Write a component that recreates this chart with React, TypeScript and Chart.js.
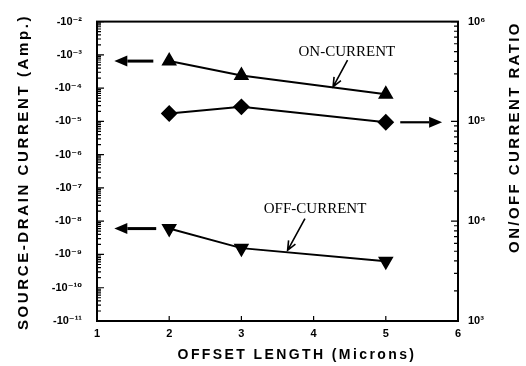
import React, { useEffect, useRef } from 'react';
import { Chart, registerables } from 'chart.js';
Chart.register(...registerables);

// ---- data ----
const offsetLength = [2, 3, 5];
const onCurrent = [6.5e-4, 2.4e-4, 6.5e-5];
const offCurrent = [6.0e-9, 1.55e-9, 6.3e-10];
const onOffRatio = [1.2e5, 1.4e5, 9.8e4];
const xTickValues = [1, 2, 3, 4, 5, 6];
const leftExps = [-11, -10, -9, -8, -7, -6, -5, -4, -3, -2];
const rightExps = [3, 4, 5, 6];

const SUP: Record<string, string> = {
  '-': '\u207B', '0': '\u2070', '1': '\u00B9', '2': '\u00B2', '3': '\u00B3',
  '4': '\u2074', '5': '\u2075', '6': '\u2076', '7': '\u2077', '8': '\u2078', '9': '\u2079',
};
const sup = (n: number) => String(n).split('').map((c) => SUP[c] || c).join('');

const SANS = '"Liberation Sans", Arial, "DejaVu Sans", sans-serif';
const SERIF = '"Liberation Serif", "Times New Roman", serif';

function filledArrow(ctx: CanvasRenderingContext2D, x1: number, y1: number, x2: number, y2: number, lw: number) {
  const ang = Math.atan2(y2 - y1, x2 - x1);
  const hl = 13, hw = 5.5;
  const bx = x2 - hl * Math.cos(ang), by = y2 - hl * Math.sin(ang);
  ctx.beginPath();
  ctx.lineWidth = lw;
  ctx.moveTo(x1, y1);
  ctx.lineTo(bx, by);
  ctx.stroke();
  ctx.beginPath();
  ctx.moveTo(x2, y2);
  ctx.lineTo(bx + hw * Math.sin(ang), by - hw * Math.cos(ang));
  ctx.lineTo(bx - hw * Math.sin(ang), by + hw * Math.cos(ang));
  ctx.closePath();
  ctx.fill();
}

function openArrow(ctx: CanvasRenderingContext2D, x1: number, y1: number, x2: number, y2: number) {
  const ang = Math.atan2(y2 - y1, x2 - x1);
  const hl = 10, spread = 0.4;
  ctx.beginPath();
  ctx.lineWidth = 1.6;
  ctx.moveTo(x1, y1);
  ctx.lineTo(x2, y2);
  ctx.moveTo(x2 - hl * Math.cos(ang - spread), y2 - hl * Math.sin(ang - spread));
  ctx.lineTo(x2, y2);
  ctx.lineTo(x2 - hl * Math.cos(ang + spread), y2 - hl * Math.sin(ang + spread));
  ctx.stroke();
}

const decorPlugin = {
  id: 'decor',
  afterDraw(chart: any) {
    const ctx: CanvasRenderingContext2D = chart.ctx;
    const { left, right, top, bottom } = chart.chartArea;
    const xs = chart.scales.x, ys = chart.scales.y, y2s = chart.scales.y2;
    ctx.save();
    ctx.strokeStyle = '#000';
    ctx.fillStyle = '#000';
    // frame
    ctx.lineWidth = 2;
    ctx.strokeRect(left, top, right - left, bottom - top);
    // left ticks
    ctx.lineWidth = 1.2;
    ctx.beginPath();
    for (let e = -11; e <= -2; e++) {
      for (let k = 1; k <= 9; k++) {
        if (e === -2 && k > 1) break;
        const py = ys.getPixelForValue(k * Math.pow(10, e));
        const len = k === 1 ? 7 : 4;
        ctx.moveTo(left, py);
        ctx.lineTo(left + len, py);
      }
    }
    // right ticks
    for (let e = 3; e <= 6; e++) {
      for (let k = 1; k <= 9; k++) {
        if (e === 6 && k > 1) break;
        const py = y2s.getPixelForValue(k * Math.pow(10, e));
        const len = k === 1 ? 7 : 4;
        ctx.moveTo(right, py);
        ctx.lineTo(right - len, py);
      }
    }
    // x ticks
    for (const v of xTickValues) {
      const px = xs.getPixelForValue(v);
      ctx.moveTo(px, bottom);
      ctx.lineTo(px, bottom - 5);
    }
    ctx.stroke();

    // big arrows
    const yOn = ys.getPixelForValue(onCurrent[0]);
    filledArrow(ctx, xs.getPixelForValue(1.78), yOn, xs.getPixelForValue(1.24), yOn, 3);
    const yOff = ys.getPixelForValue(offCurrent[0]);
    filledArrow(ctx, xs.getPixelForValue(1.82), yOff, xs.getPixelForValue(1.24), yOff, 3);
    const yR = y2s.getPixelForValue(onOffRatio[2]);
    filledArrow(ctx, xs.getPixelForValue(5.2), yR, xs.getPixelForValue(5.78), yR, 2.2);

    // annotations
    ctx.font = `15px ${SERIF}`;
    ctx.textAlign = 'center';
    ctx.textBaseline = 'middle';
    ctx.fillText('ON-CURRENT', xs.getPixelForValue(4.46), ys.getPixelForValue(Math.pow(10, -2.92)));
    openArrow(ctx, xs.getPixelForValue(4.47), ys.getPixelForValue(Math.pow(10, -3.16)),
      xs.getPixelForValue(4.27), ys.getPixelForValue(Math.pow(10, -3.96)));
    ctx.fillText('OFF-CURRENT', xs.getPixelForValue(4.02), ys.getPixelForValue(Math.pow(10, -7.625)));
    openArrow(ctx, xs.getPixelForValue(3.88), ys.getPixelForValue(Math.pow(10, -7.92)),
      xs.getPixelForValue(3.64), ys.getPixelForValue(Math.pow(10, -8.875)));

    // axis titles
    (ctx as any).letterSpacing = '2.4px';
    ctx.font = `bold 14px ${SANS}`;
    ctx.fillText('OFFSET LENGTH (Microns)', 297, 355);
    ctx.font = `bold 15px ${SANS}`;
    (ctx as any).letterSpacing = '2.6px';
    ctx.save();
    ctx.translate(24, 172);
    ctx.rotate(-Math.PI / 2);
    ctx.fillText('SOURCE-DRAIN CURRENT (Amp.)', 0, 0);
    ctx.restore();
    (ctx as any).letterSpacing = '2.4px';
    ctx.save();
    ctx.translate(515, 137);
    ctx.rotate(-Math.PI / 2);
    ctx.fillText('ON/OFF CURRENT RATIO', 0, 0);
    ctx.restore();
    ctx.restore();
  },
};

export default function App() {
  const ref = useRef<HTMLCanvasElement>(null);
  useEffect(() => {
    if (!ref.current) return;
    const tickFont = { family: SANS, size: 11, weight: 'bold' as const };
    const chart = new Chart(ref.current, {
      type: 'line',
      data: {
        datasets: [
          {
            label: 'ON-CURRENT',
            data: offsetLength.map((x, i) => ({ x, y: onCurrent[i] })),
            yAxisID: 'y',
            borderColor: '#000',
            backgroundColor: '#000',
            borderWidth: 2,
            pointStyle: 'triangle',
            pointRadius: 7,
          },
          {
            label: 'ON/OFF RATIO',
            data: offsetLength.map((x, i) => ({ x, y: onOffRatio[i] })),
            yAxisID: 'y2',
            borderColor: '#000',
            backgroundColor: '#000',
            borderWidth: 2,
            pointStyle: 'rectRot',
            pointRadius: 7,
          },
          {
            label: 'OFF-CURRENT',
            data: offsetLength.map((x, i) => ({ x, y: offCurrent[i] })),
            yAxisID: 'y',
            borderColor: '#000',
            backgroundColor: '#000',
            borderWidth: 2,
            pointStyle: 'triangle',
            pointRotation: 180,
            pointRadius: 7,
          },
        ],
      },
      options: {
        animation: false,
        responsive: false,
        layout: { padding: { top: 19, left: 0, right: 0, bottom: 0 } },
        plugins: { legend: { display: false }, tooltip: { enabled: false } },
        scales: {
          x: {
            type: 'linear',
            min: 1,
            max: 6,
            afterBuildTicks: (s: any) => { s.ticks = xTickValues.map((v) => ({ value: v })); },
            afterFit: (s: any) => { s.height = 45; },
            ticks: { font: tickFont, color: '#000', padding: 6, maxRotation: 0, autoSkip: false, callback: (v: any) => String(v) },
            grid: { display: false, drawTicks: false },
            border: { display: false },
          },
          y: {
            type: 'logarithmic',
            position: 'left',
            min: 1e-11,
            max: 1e-2,
            afterBuildTicks: (s: any) => { s.ticks = leftExps.map((e) => ({ value: Math.pow(10, e) })); },
            afterFit: (s: any) => { s.width = 97; },
            ticks: {
              font: tickFont, color: '#000', padding: 15, autoSkip: false,
              callback: (_v: any, i: number) => '-10' + sup(leftExps[i]),
            },
            grid: { display: false, drawTicks: false },
            border: { display: false },
          },
          y2: {
            type: 'logarithmic',
            position: 'right',
            min: 1e3,
            max: 1e6,
            afterBuildTicks: (s: any) => { s.ticks = rightExps.map((e) => ({ value: Math.pow(10, e) })); },
            afterFit: (s: any) => { s.width = 68; },
            ticks: {
              font: tickFont, color: '#000', padding: 10, autoSkip: false,
              callback: (_v: any, i: number) => '10' + sup(rightExps[i]),
            },
            grid: { display: false, drawTicks: false },
            border: { display: false },
          },
        },
      },
      plugins: [decorPlugin],
    } as any);
    return () => chart.destroy();
  }, []);
  return (
    <div style={{ position: 'fixed', left: 0, top: 0, width: 526, height: 366, background: '#fff' }}>
      <canvas ref={ref} width={526} height={366} />
    </div>
  );
}
